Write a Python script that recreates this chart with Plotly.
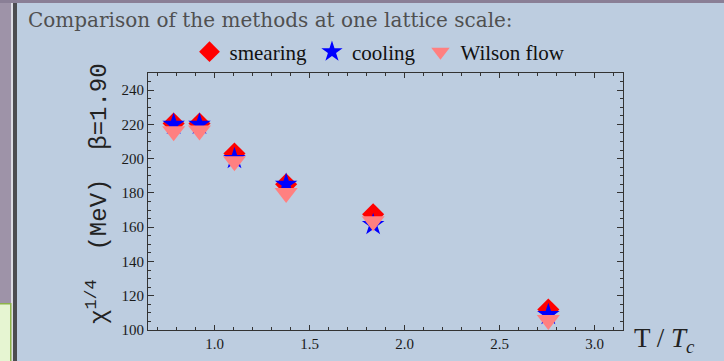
import plotly.graph_objects as go

# Data
t_over_tc = [0.785, 0.921, 1.105, 1.377, 1.835, 2.757]
smearing = [220.5, 220.5, 203.0, 185.0, 167.5, 112.0]
cooling = [220.0, 220.0, 200.0, 185.0, 161.5, 109.0]
wilson_flow = [216.0, 216.5, 198.5, 180.0, 163.5, 105.8]
series_names = ["smearing", "cooling", "Wilson flow"]

W, H = 724, 361
L, R, T, B = 148, 623, 73, 330
BG = "#bdcde0"

def px(x):
    return (x - L) / (R - L)

def py(y):
    return (B - y) / (B - T)

fig = go.Figure()
fig.add_trace(go.Scatter(x=t_over_tc, y=smearing, mode="markers", name=series_names[0],
                         marker=dict(symbol="diamond", size=17, color="#ff0000", line=dict(width=0))))
fig.add_trace(go.Scatter(x=t_over_tc, y=cooling, mode="markers", name=series_names[1],
                         marker=dict(symbol="star", size=17, color="#0000ff", line=dict(width=0))))
fig.add_trace(go.Scatter(x=t_over_tc, y=wilson_flow, mode="markers", name=series_names[2],
                         marker=dict(symbol="triangle-down", size=20, color="#ff8080", line=dict(width=0))))

axis_common = dict(showgrid=False, zeroline=False, showline=True, linecolor="#333333", linewidth=1,
                   mirror="allticks", ticks="inside", tickcolor="#333333", tickwidth=1, automargin=False,
                   tickfont=dict(family="Liberation Serif", size=15, color="#1a1a1a"))

fig.update_xaxes(range=[0.65, 3.15], tick0=0, dtick=0.5, ticklen=5, tickformat=".1f",
                 minor=dict(dtick=0.1, ticks="inside", ticklen=3, tickcolor="#333333"),
                 **axis_common)
fig.update_yaxes(range=[100, 250], tick0=0, dtick=20, ticklen=6,
                 minor=dict(dtick=5, ticks="inside", ticklen=3, tickcolor="#333333"),
                 **axis_common)

shapes = [
    dict(type="rect", xref="paper", yref="paper", x0=px(0), x1=px(11), y0=py(361), y1=py(0),
         fillcolor="#9e93a8", line=dict(width=0), layer="below"),
    dict(type="rect", xref="paper", yref="paper", x0=px(0), x1=px(724), y0=py(3), y1=py(0),
         fillcolor="#8a7f96", line=dict(width=0), layer="below"),
    dict(type="rect", xref="paper", yref="paper", x0=px(11), x1=px(13), y0=py(361), y1=py(3),
         fillcolor="#dcdce4", line=dict(width=0), layer="below"),
    dict(type="rect", xref="paper", yref="paper", x0=px(13), x1=px(17), y0=py(361), y1=py(3),
         fillcolor="#4c4c50", line=dict(width=0), layer="below"),
    dict(type="rect", xref="paper", yref="paper", x0=px(0), x1=px(11), y0=py(361), y1=py(303),
         fillcolor="#e6f5d2", line=dict(width=0), layer="below"),
    dict(type="rect", xref="paper", yref="paper", x0=px(0), x1=px(11), y0=py(304.5), y1=py(303),
         fillcolor="#8db34a", line=dict(width=0), layer="below"),
    dict(type="rect", xref="paper", yref="paper", x0=px(10), x1=px(11.5), y0=py(361), y1=py(303),
         fillcolor="#8db34a", line=dict(width=0), layer="below"),
]

annotations = [
    dict(text="Comparison of the methods at one lattice scale:", xref="paper", yref="paper",
         x=px(26), y=py(20), xanchor="left", yanchor="middle", showarrow=False,
         font=dict(family="DejaVu Serif", size=20, color="#505050")),
    dict(text="χ<sup>1/4</sup>  (MeV)  β=1.90", xref="paper", yref="paper",
         x=px(97), y=py(194), xanchor="center", yanchor="middle", textangle=-90, showarrow=False,
         font=dict(family="Liberation Mono", size=24, color="#222222")),
    dict(text="T / <i>T</i><sub><i>c</i></sub>", xref="paper", yref="paper",
         x=px(632), y=py(340), xanchor="left", yanchor="middle", showarrow=False,
         font=dict(family="Liberation Serif", size=27, color="#222222")),
]

fig.update_layout(
    width=W, height=H,
    margin=dict(l=L, r=W - R, t=T, b=H - B),
    paper_bgcolor=BG, plot_bgcolor=BG,
    showlegend=True,
    legend=dict(orientation="h", x=px(380), y=py(52), xanchor="center", yanchor="middle",
                bgcolor="rgba(0,0,0,0)", font=dict(family="Liberation Serif", size=21, color="#111111"),
                itemsizing="trace", tracegroupgap=0),
    shapes=shapes,
    annotations=annotations,
)

fig.write_html("out.html")
